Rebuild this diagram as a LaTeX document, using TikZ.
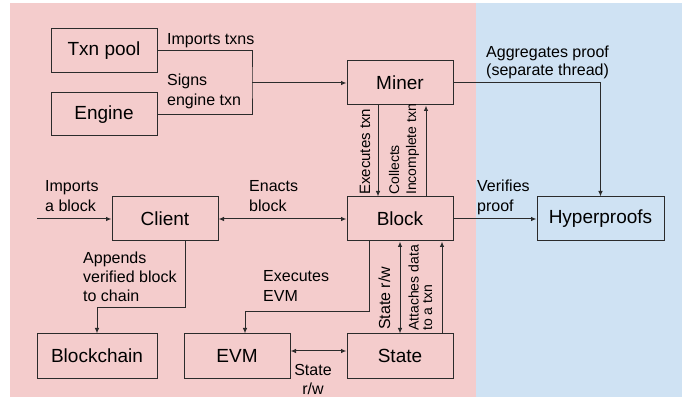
\documentclass[tikz,border=0pt]{standalone}
\usepackage{fontspec}
\setmainfont{Liberation Sans}
\usetikzlibrary{arrows.meta}
\definecolor{bgred}{HTML}{F4CCCC}
\definecolor{bgblue}{HTML}{CFE2F3}
\definecolor{ink}{HTML}{2B2B2B}
\begin{document}
\begin{tikzpicture}[x=1pt,y=-1pt,
  box/.style={draw=ink, line width=1pt, minimum width=106pt, minimum height=44pt,
    inner sep=0pt, font=\fontsize{19}{22}\selectfont},
  lbl/.style={font=\fontsize{16}{19.5}\selectfont, inner sep=0pt, align=left, anchor=base west},
  vlbl/.style={font=\fontsize{15}{17}\selectfont, inner sep=0pt, align=left,
    rotate=90, anchor=base west},
  conn/.style={draw=ink, line width=1pt},
  tip/.tip={Latex[length=5.5pt,width=4.5pt]},
  arr/.style={conn, -tip},
  biarr/.style={conn, tip-tip},
]
% canvas and the two background zones
\useasboundingbox (0,0) rectangle (699,403);
\fill[white] (0,0) rectangle (699,403);
\fill[bgred] (10,3) rectangle (476,397);
\fill[bgblue] (476,3) rectangle (682,397);

% components
\node[box] (txn) at (104,51) {Txn pool};
\node[box, minimum height=43pt] (engine) at (104,114.5) {Engine};
\node[box] (miner) at (400,83) {Miner};
\node[box] (client) at (165,219) {Client};
\node[box] (block) at (400,219) {Block};
\node[box, minimum width=120pt] (chain) at (97,356) {Blockchain};
\node[box] (evm) at (237,356) {EVM};
\node[box] (state) at (400,356) {State};
\node[box, minimum width=127pt] (hyper) at (600.5,219) {Hyperproofs};

% transaction sources merge into the miner
\coordinate (join) at (252,83);
\draw[conn] (txn.east) -| (join) |- (engine.east);
\draw[arr] (join) -- (miner.west);
\node[lbl] (l1) at (167,45) {Imports txns};
\node[lbl, font=\fontsize{16}{20}\selectfont] (l2) at (167,106) {Signs\\engine txn};

% miner <-> block and proof aggregation
\draw[arr] (miner.east) -| (hyper.north);
\node[lbl, font=\fontsize{16}{18}\selectfont] (l3) at (486,76) {Aggregates proof\\(separate thread)};
\draw[arr] ([xshift=-22pt]miner.south) -- ([xshift=-22pt]block.north);
\draw[arr] ([xshift=26pt]block.north) -- ([xshift=26pt]miner.south);
\node[vlbl] (l4) at (370,195) {Executes txn};
\node[vlbl, font=\fontsize{14}{17}\selectfont] (l5) at (416,195) {Collects\\Incomplete txn};

% client row
\coordinate (src) at (37,219);
\draw[arr] (src) -- (client.west);
\node[lbl] (l6) at (45,211.5) {Imports\\a block};
\draw[biarr] (client.east) -- (block.west);
\node[lbl] (l7) at (249,211.5) {Enacts\\block};
\draw[arr] (block.east) -- (hyper.west);
\node[lbl] (l8) at (477,211.5) {Verifies\\proof};

% lower row
\draw[arr] ([xshift=20pt]client.south) -- ++(0,66) -| (chain.north);
\node[lbl] (l9) at (83,302) {Appends\\verified block\\to chain};
\draw[arr] ([xshift=-31pt]block.south) -- ++(0,70) -| ([xshift=8pt]evm.north);
\node[lbl, font=\fontsize{16}{20}\selectfont] (l10) at (263,302) {Executes\\EVM};
\draw[biarr] (block.south) -- (state.north);
\node[vlbl, font=\fontsize{16}{17}\selectfont] (l11) at (390,330) {State r/w};
\draw[arr] ([xshift=42pt]state.north) -- ([xshift=42pt]block.south);
\node[vlbl, font=\fontsize{14}{13.5}\selectfont] (l12) at (432,331) {Attaches data\\to a txn};
\draw[biarr] ([yshift=5pt]evm.east) -- ([yshift=5pt]state.west);
\node[lbl, anchor=base, align=center, font=\fontsize{16}{19}\selectfont] (l13) at (313,394) {State\\r/w};
\end{tikzpicture}
\end{document}
